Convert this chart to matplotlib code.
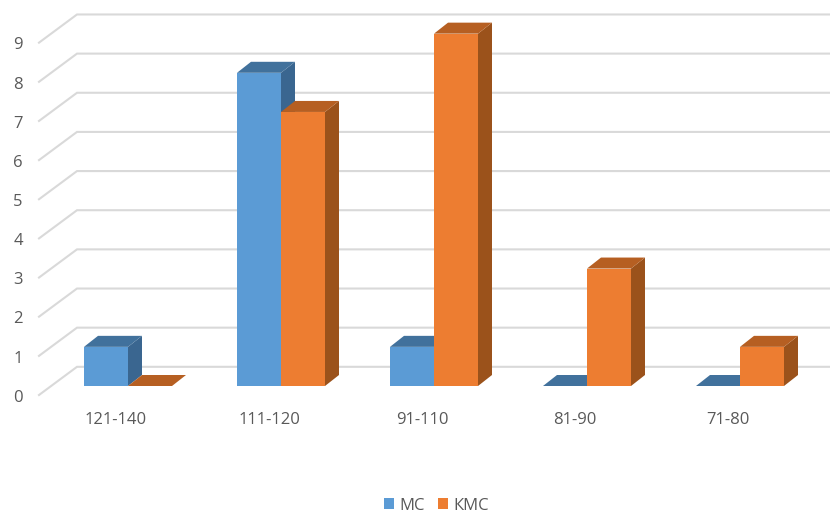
import matplotlib
matplotlib.use('Agg')
import matplotlib.pyplot as plt
from matplotlib.patches import Polygon, Patch

plt.rcParams['font.family'] = ['Open Sans', 'DejaVu Sans']

categories = ['121-140', '111-120', '91-110', '81-90', '71-80']
mc = [1, 8, 1, 0, 0]
kms = [0, 7, 9, 3, 1]
y_ticks = [0, 1, 2, 3, 4, 5, 6, 7, 8, 9]

W, H = 830, 513
CAT_PX = 153.0     # pixels per category
VAL_PX = 39.15     # pixels per unit of value
X0_PX = 128.0      # pixel of the first category centre
Y0_PX = 386.0      # pixel of value 0 on the bar front

BAR_W = 44 / CAT_PX
DEPTH_X = 14 / CAT_PX
DEPTH_Y = 11 / VAL_PX

GRID = '#D9D9D9'
TEXT = '#595959'
BLUE = ('#5B9BD5', '#41719C', '#3A6690')
ORANGE = ('#ED7D31', '#B65F22', '#9B521B')

fig = plt.figure(figsize=(W / 100, H / 100), dpi=100)
ax = fig.add_axes([0, 0, 1, 1])
ax.set_xlim(-X0_PX / CAT_PX, (W - X0_PX) / CAT_PX)
ax.set_ylim((Y0_PX - H) / VAL_PX, Y0_PX / VAL_PX)
ax.axis('off')


def px_x(p):
    return (p - X0_PX) / CAT_PX


def bar3d(x, v, cols):
    front, top, side = cols
    dx, dy = DEPTH_X, DEPTH_Y
    if v > 0:
        ax.add_patch(Polygon([(x + BAR_W, 0), (x + BAR_W + dx, dy), (x + BAR_W + dx, v + dy), (x + BAR_W, v)],
                             fc=side, ec='none', zorder=3))
        ax.add_patch(Polygon([(x, 0), (x + BAR_W, 0), (x + BAR_W, v), (x, v)], fc=front, ec='none', zorder=3))
    ax.add_patch(Polygon([(x, v), (x + BAR_W, v), (x + BAR_W + dx, v + dy), (x + dx, v + dy)],
                         fc=top, ec='none', zorder=3))


# back wall and left wall grid lines
for t in y_ticks:
    ax.plot([px_x(39), px_x(77), px_x(W)], [t - 0.23, t + 0.49, t + 0.49],
            color=GRID, lw=1.5, zorder=1, solid_joinstyle='miter')
    ax.text(px_x(18), t - 0.3, str(t), color=TEXT, fontsize=12, ha='center', va='center')

for i, name in enumerate(categories):
    bar3d(i - BAR_W, mc[i], BLUE)
    bar3d(i, kms[i], ORANGE)
    ax.text(i - 12 / CAT_PX, -0.87, name, color=TEXT, fontsize=12, ha='center', va='center')

handles = [Patch(fc=BLUE[0], label='МС'), Patch(fc=ORANGE[0], label='КМС')]
ax.legend(handles=handles, loc='center', bbox_to_anchor=(436.5 / W, 1 - 505.5 / H), ncol=2, frameon=False,
          fontsize=12, labelcolor=TEXT, handlelength=0.6, handleheight=0.6, handletextpad=0.3,
          columnspacing=0.8, borderpad=0)

fig.savefig('out.png', dpi=100, facecolor='white')
